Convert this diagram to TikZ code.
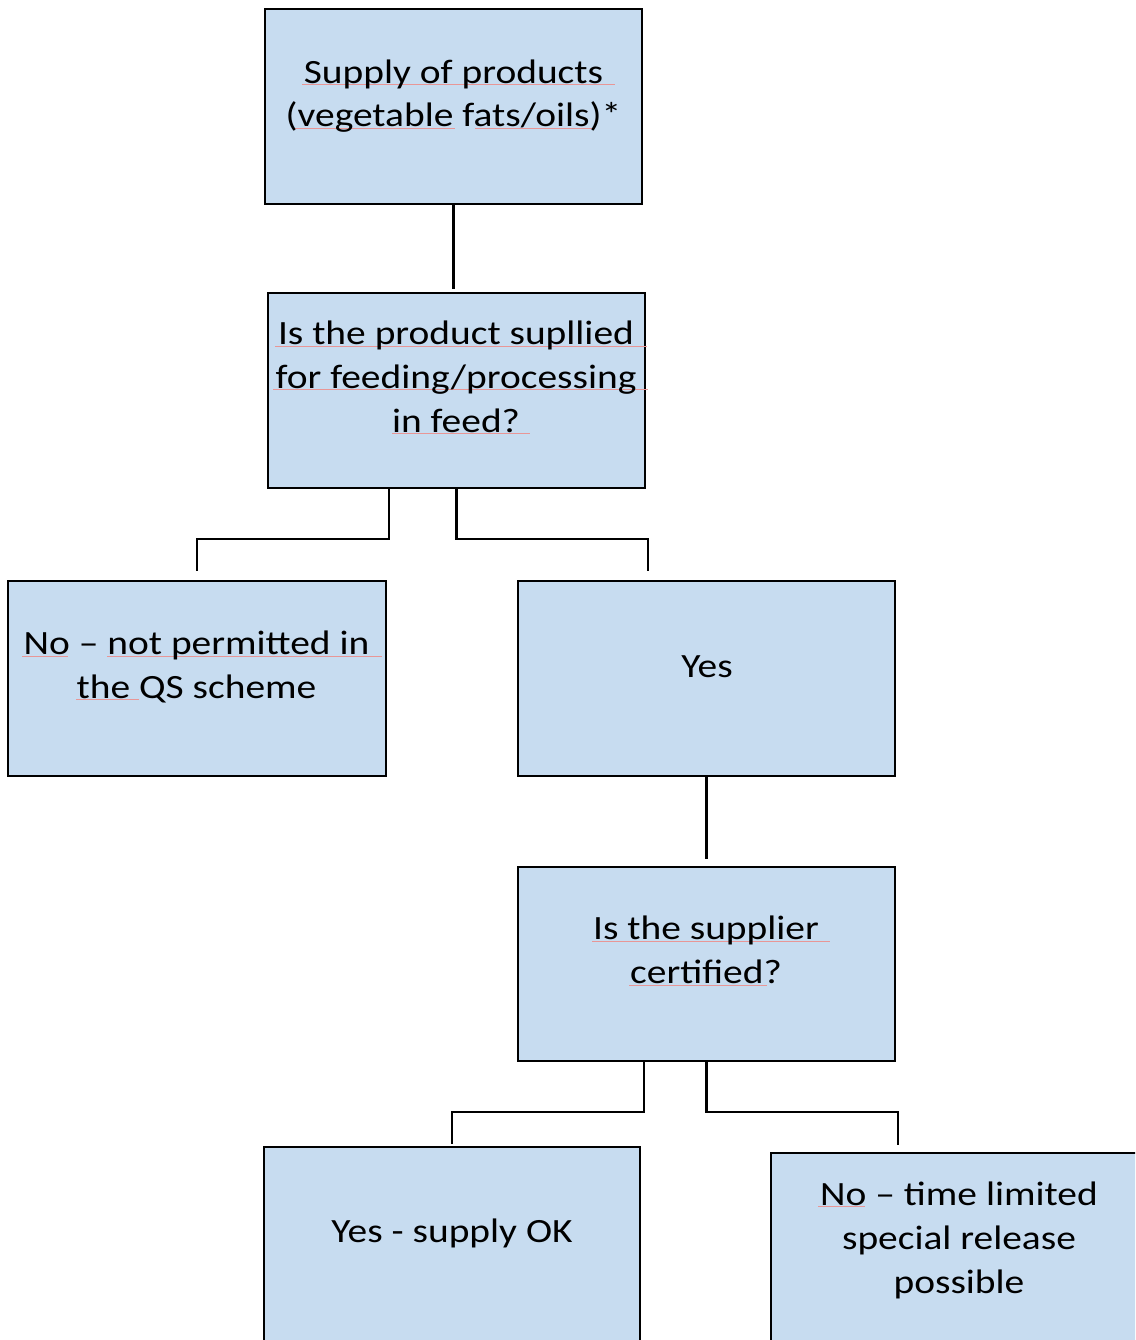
\documentclass[tikz,border=0pt]{standalone}
\usepackage{fontspec}
\setmainfont{Carlito}[FakeStretch=1.16]
\usetikzlibrary{calc}
\definecolor{boxfill}{RGB}{199,220,240}
\definecolor{spell}{RGB}{232,150,150}
\begin{document}
\begin{tikzpicture}[x=1pt,y=-1pt,
  box/.style={draw=black, line width=2.6pt, fill=boxfill, inner sep=0pt, minimum width=377pt, minimum height=195pt},
  txt/.style={align=center, anchor=base, inner sep=0pt, font=\fontsize{34}{43.8}\selectfont},
  conn/.style={draw=black, line width=2.3pt},
  squig/.style={draw=spell, line width=0.7pt}]
\useasboundingbox (0,0) rectangle (1135,1340);
\clip (0,0) rectangle (1135,1340);
% boxes
\node[box] (a) at (453.5,106.5) {};
\node[box] (b) at (456.5,390.5) {};
\node[box, minimum width=378pt] (c) at (197,678.5) {};
\node[box] (d) at (706.5,678.5) {};
\node[box, minimum height=194pt] (e) at (706.5,964) {};
\node[box, minimum width=376pt] (f) at (452,1244.5) {};
\node[box] (g) at (959.5,1250.5) {};
% spell-check underlines
\draw[squig] (302,84) -- (615,84);
\draw[squig] (295,128) -- (455,128);
\draw[squig] (475,128) -- (593,128);
\draw[squig] (275,346) -- (647,346);
\draw[squig] (273,389) -- (648,389);
\draw[squig] (392,433) -- (530,433);
\draw[squig] (22,656) -- (68,656);
\draw[squig] (107,656) -- (382,656);
\draw[squig] (76,699) -- (139,699);
\draw[squig] (592,941) -- (830,941);
\draw[squig] (629,985) -- (767,985);
\draw[squig] (818,1206) -- (865,1206);
% texts (anchor base = baseline of last line)
\node[txt] (ta) at (453.5,127) {Supply of products\\(vegetable fats/oils)*};
\node[txt] (tb) at (456,432) {Is the product supllied\\for feeding/processing\\in feed?};
\node[txt] (tc) at (196.5,698) {No – not permitted in\\the QS scheme};
\node[txt] (td) at (707,677) {Yes};
\node[txt] (te) at (706,983) {Is the supplier\\certified?};
\node[txt] (tf) at (452,1242) {Yes - supply OK};
\node[txt] (tg) at (959,1293) {No – time limited\\special release\\possible};
% connectors
\draw[conn] (a.south) -- ([yshift=3pt]a.south |- b.north);
\draw[conn] ([xshift=-67.5pt]b.south) -- ++(0,50) -| ([yshift=9pt]c.north);
\draw[conn] (b.south) -- ++(0,50) -| ([xshift=-58.5pt,yshift=9pt]d.north);
\draw[conn] (d.south) -- ([yshift=7pt]e.north);
\draw[conn] ([xshift=-62.5pt]e.south) -- ++(0,50) -| ([yshift=2pt]f.north);
\draw[conn] (e.south) -- ++(0,50) -| ([xshift=-61.5pt,yshift=7pt]g.north);
\end{tikzpicture}
\end{document}
